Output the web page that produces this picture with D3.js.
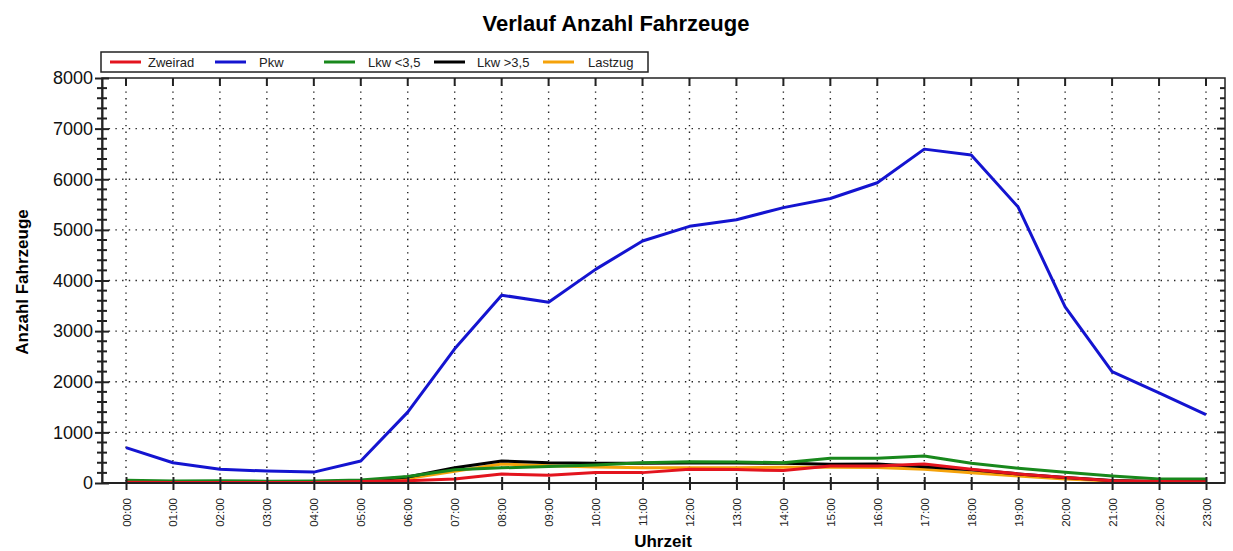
<!DOCTYPE html>
<html>
<head>
<meta charset="utf-8">
<script src="https://cdn.jsdelivr.net/npm/d3@7"></script>
<style>
  body { margin: 0; background: #fff; }
  svg { font-family: "Liberation Sans", Arial, sans-serif; }
</style>
</head>
<body>
<div id="chart"></div>
<script>
// hours on the x axis
var hours = ["00:00","01:00","02:00","03:00","04:00","05:00","06:00","07:00","08:00","09:00","10:00","11:00",
             "12:00","13:00","14:00","15:00","16:00","17:00","18:00","19:00","20:00","21:00","22:00","23:00"];

// series values
var zweirad  = [15,10,10,10,10,30,45,80,178,155,205,205,270,265,245,336,336,375,270,180,110,45,30,25];
var pkw      = [700,400,270,235,215,435,1400,2650,3710,3570,4220,4780,5070,5200,5440,5620,5930,6595,6480,5450,3480,2200,1780,1350];
var lkwKlein = [55,40,45,35,40,60,130,260,300,325,356,400,422,415,402,488,488,534,389,290,210,138,79,79];
var lkwGross = [25,20,25,20,25,40,120,300,435,402,390,390,395,395,389,370,375,320,260,180,110,50,30,30];
var lastzug  = [15,10,15,10,15,30,90,230,375,342,315,300,300,300,310,310,305,270,204,138,80,40,20,20];

var yTicks = [0,1000,2000,3000,4000,5000,6000,7000,8000];

var series = [
    {name: "Zweirad",  values: zweirad,  color: "#e3141e"},
    {name: "Pkw",      values: pkw,      color: "#1414d0"},
    {name: "Lkw <3,5", values: lkwKlein, color: "#18881c"},
    {name: "Lkw >3,5", values: lkwGross, color: "#000000"},
    {name: "Lastzug",  values: lastzug,  color: "#f5a20a"}
];

var W = 1233, H = 551;
var pLeft = 102, pRight = 1225, pTop = 78, pBottom = 483;

var svg = d3.select("#chart").append("svg")
    .attr("width", W)
    .attr("height", H);

var x = d3.scaleLinear().domain([0, 23]).range([126, 1206]);
var y = d3.scaleLinear().domain([0, 8000]).range([pBottom, pTop]);

// dotted grid
var grid = svg.append("g")
    .attr("stroke", "#222")
    .attr("stroke-width", 1.4)
    .attr("stroke-dasharray", "1.4,5.3");

grid.append("g").selectAll("line")
    .data(hours)
    .join("line")
    .attr("x1", (d, i) => x(i)).attr("x2", (d, i) => x(i))
    .attr("y1", pTop).attr("y2", pBottom);

grid.append("g").selectAll("line")
    .data(yTicks.slice(1, -1))
    .join("line")
    .attr("x1", pLeft).attr("x2", pRight)
    .attr("y1", d => y(d)).attr("y2", d => y(d));

// lines
var line = d3.line()
    .x((d, i) => x(i))
    .y(d => y(d));

var drawOrder = [4, 3, 2, 0, 1];
svg.append("g")
    .selectAll("path")
    .data(drawOrder.map(i => series[i]))
    .join("path")
    .attr("fill", "none")
    .attr("stroke", d => d.color)
    .attr("stroke-width", 3)
    .attr("stroke-linejoin", "round")
    .attr("d", d => line(d.values));

// frame
svg.append("rect")
    .attr("x", pLeft).attr("y", pTop)
    .attr("width", pRight - pLeft).attr("height", pBottom - pTop)
    .attr("fill", "none")
    .attr("stroke", "#222")
    .attr("stroke-width", 1.5);

// left axis
var yAxis = d3.axisLeft(y)
    .tickValues(yTicks)
    .tickFormat(d3.format("d"))
    .tickSizeInner(7)
    .tickSizeOuter(0)
    .tickPadding(6);

var gy = svg.append("g")
    .attr("transform", "translate(" + pLeft + ",0)")
    .call(yAxis);
gy.select(".domain").attr("stroke", "#222").attr("stroke-width", 2);
gy.selectAll(".tick line").attr("x2", -7).attr("x1", 7).attr("stroke", "#222").attr("stroke-width", 2);
gy.selectAll(".tick text")
    .attr("font-size", 18)
    .attr("fill", "#111")
    .attr("x", -9)
    .style("font-family", "'Liberation Sans', Arial, sans-serif");

var minor = d3.range(200, 8000, 200).filter(v => v % 1000 !== 0);
svg.append("g")
    .attr("stroke", "#222")
    .attr("stroke-width", 2)
    .selectAll("line")
    .data(minor)
    .join("line")
    .attr("x1", pLeft - 5).attr("x2", pLeft + 5)
    .attr("y1", d => y(d)).attr("y2", d => y(d));

// right axis ticks (inward)
svg.append("g")
    .attr("stroke", "#222")
    .attr("stroke-width", 2)
    .selectAll("line")
    .data(d3.range(200, 8000, 200))
    .join("line")
    .attr("x1", pRight).attr("x2", d => d % 1000 === 0 ? pRight - 8 : pRight - 5)
    .attr("y1", d => y(d)).attr("y2", d => y(d));

// top ticks
svg.append("g")
    .attr("stroke", "#222")
    .attr("stroke-width", 2)
    .selectAll("line")
    .data(hours)
    .join("line")
    .attr("x1", (d, i) => x(i)).attr("x2", (d, i) => x(i))
    .attr("y1", pTop).attr("y2", pTop + 8);

// bottom axis
var xAxis = d3.axisBottom(x)
    .tickValues(d3.range(0, 24))
    .tickFormat(i => hours[i])
    .tickSizeOuter(0)
    .tickSizeInner(7);

var gx = svg.append("g")
    .attr("transform", "translate(0," + pBottom + ")")
    .call(xAxis);
gx.select(".domain").remove();
svg.append("line")
    .attr("x1", pLeft).attr("x2", pRight)
    .attr("y1", pBottom).attr("y2", pBottom)
    .attr("stroke", "#222").attr("stroke-width", 2);
gx.selectAll(".tick line").attr("y1", -6).attr("y2", 7).attr("stroke", "#222").attr("stroke-width", 2);
gx.selectAll(".tick text")
    .attr("transform", "rotate(-90)")
    .attr("x", -15)
    .attr("y", 0)
    .attr("dy", "0.35em")
    .attr("text-anchor", "end")
    .attr("font-size", 11.5)
    .attr("fill", "#222")
    .style("font-family", "'Liberation Sans', Arial, sans-serif");

// title and axis labels
svg.append("text")
    .attr("x", 616).attr("y", 31)
    .attr("text-anchor", "middle")
    .attr("font-size", 22)
    .attr("font-weight", "bold")
    .text("Verlauf Anzahl Fahrzeuge");

svg.append("text")
    .attr("x", 663).attr("y", 547)
    .attr("text-anchor", "middle")
    .attr("font-size", 17)
    .attr("font-weight", "bold")
    .text("Uhrzeit");

svg.append("text")
    .attr("transform", "translate(28,282) rotate(-90)")
    .attr("text-anchor", "middle")
    .attr("font-size", 17)
    .attr("font-weight", "bold")
    .text("Anzahl Fahrzeuge");

// legend
var legend = svg.append("g");
legend.append("rect")
    .attr("x", 101).attr("y", 52)
    .attr("width", 547).attr("height", 20)
    .attr("fill", "#fff")
    .attr("stroke", "#222")
    .attr("stroke-width", 1.5);

var legendLineX = [110, 215, 324, 434, 543];
var legendTextX = [148, 259, 368, 477, 588];
var item = legend.selectAll("g.item")
    .data(series)
    .join("g")
    .attr("transform", "translate(0,62)");
item.append("line")
    .attr("x1", (d, i) => legendLineX[i]).attr("x2", (d, i) => legendLineX[i] + 31)
    .attr("stroke", d => d.color)
    .attr("stroke-width", 3);
item.append("text")
    .attr("x", (d, i) => legendTextX[i]).attr("dy", "0.35em")
    .attr("font-size", 13)
    .attr("fill", "#222")
    .text(d => d.name);
</script>
</body>
</html>
